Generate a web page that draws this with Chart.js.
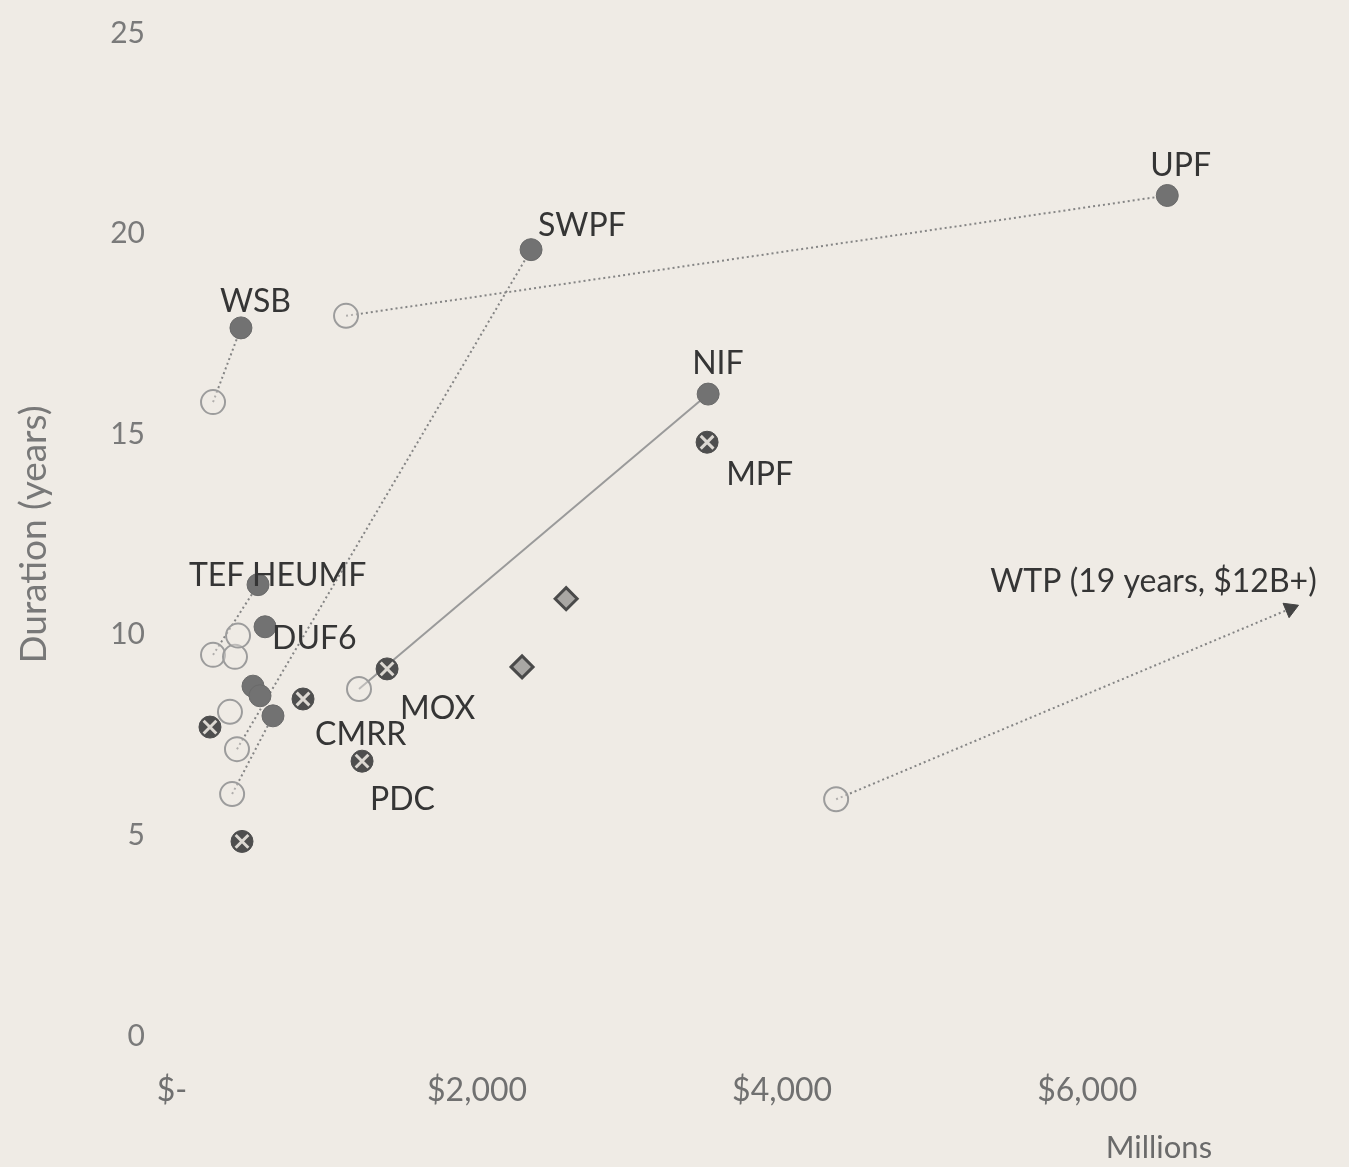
<!DOCTYPE html>
<html>
<head>
<meta charset="utf-8">
<script src="https://cdn.jsdelivr.net/npm/chart.js@4.4.1/dist/chart.umd.min.js"></script>
<style>
  html, body { margin: 0; padding: 0; background: #efebe5; }
  #wrap { width: 1349px; height: 1167px; }
</style>
</head>
<body>
<div id="wrap"><canvas id="chart_area"></canvas></div>
<script>
// tick values
const xTicks = [0, 2000, 4000, 6000];
const yTicks = [0, 5, 10, 15, 20, 25];

// baseline estimates (open circles)
const openCost  = [269, 1141, 426, 269, 413, 433, 380, 394, 1226, 4354];
const openYears = [15.8, 17.95, 7.15, 9.5, 9.45, 9.98, 8.08, 6.03, 8.65, 5.9];

// current estimates (filled circles)
const filledCost  = [452, 6525, 2354, 3515, 564, 610, 531, 577, 662];
const filledYears = [17.65, 20.95, 19.6, 16.0, 11.25, 10.2, 8.72, 8.48, 7.98];

// other projects (X markers)
const crossCost  = [1410, 3508, 859, 249, 1246, 459];
const crossYears = [9.15, 14.8, 8.4, 7.7, 6.85, 4.85];

// diamonds
const diamondCost  = [2584, 2295];
const diamondYears = [10.9, 9.2];

// growth lines, baseline -> current
const lineNames     = ['WSB', 'UPF', 'SWPF', 'TEF', 'CMRR', 'NIF', 'WTP'];
const lineFromCost  = [269, 1141, 426, 269, 394, 1226, 4354];
const lineFromYears = [15.8, 17.95, 7.15, 9.5, 6.03, 8.65, 5.9];
const lineToCost    = [452, 6525, 2354, 564, 662, 3515, 7331];
const lineToYears   = [17.65, 20.95, 19.6, 11.25, 7.98, 16.0, 10.65];

// text labels
const labelTexts = ['UPF', 'SWPF', 'WSB', 'NIF', 'MPF', 'TEF', 'HEUMF', 'DUF6', 'MOX', 'CMRR', 'PDC', 'WTP (19 years, $12B+)'];
const labelCost  = [6413, 2400, 315, 3410, 3633, 111, 525, 656, 1495, 938, 1298, 5364];
const labelYears = [21.7, 20.2, 18.3, 16.75, 13.98, 11.48, 11.48, 9.9, 8.15, 7.5, 5.9, 11.33];

const toPoints = (xs, ys) => xs.map((x, i) => ({ x: x, y: ys[i] }));

const fontFam = 'Lato, "Open Sans", sans-serif';
let datasets = [];

lineNames.forEach(function (name, i) {
  datasets.push({
    label: name + ' line',
    data: [{ x: lineFromCost[i], y: lineFromYears[i] }, { x: lineToCost[i], y: lineToYears[i] }],
    showLine: true,
    borderColor: name == 'NIF' ? '#9a9a9a' : '#858585',
    borderWidth: 2,
    borderDash: name == 'NIF' ? [] : [2, 3],
    pointRadius: 0,
    order: 10
  });
});

// arrow head at the end of WTP
const wtp = lineNames.indexOf('WTP');
datasets.push({
  label: 'WTP arrow',
  data: [{ x: lineToCost[wtp], y: lineToYears[wtp] }],
  pointStyle: 'triangle',
  pointRadius: 9,
  backgroundColor: '#444',
  borderColor: '#444',
  rotation: function (ctx) {
    const c = ctx.chart;
    if (!c.scales.x) return 67;
    const x1 = c.scales.x.getPixelForValue(lineFromCost[wtp]);
    const y1 = c.scales.y.getPixelForValue(lineFromYears[wtp]);
    const x2 = c.scales.x.getPixelForValue(lineToCost[wtp]);
    const y2 = c.scales.y.getPixelForValue(lineToYears[wtp]);
    return Math.atan2(y2 - y1, x2 - x1) * 180 / Math.PI + 90;
  },
  order: 2
});

datasets.push({
  label: 'Baseline',
  data: toPoints(openCost, openYears),
  pointStyle: 'circle',
  pointRadius: 12,
  backgroundColor: 'rgba(239,235,229,0.4)',
  borderColor: '#9c9c9c',
  borderWidth: 2,
  order: 3
});
datasets.push({
  label: 'Current',
  data: toPoints(filledCost, filledYears),
  pointStyle: 'circle',
  pointRadius: 11,
  backgroundColor: '#727272',
  borderColor: '#6a6a6a',
  borderWidth: 1,
  order: 2
});
datasets.push({
  label: 'Other',
  data: toPoints(crossCost, crossYears),
  pointStyle: 'circle',
  pointRadius: 11,
  backgroundColor: '#4e4e4e',
  borderColor: '#4e4e4e',
  borderWidth: 1,
  order: 2
});
datasets.push({
  label: 'Other X',
  data: toPoints(crossCost, crossYears),
  pointStyle: 'crossRot',
  pointRadius: 9,
  borderColor: '#dcd8d2',
  borderWidth: 3,
  order: 1
});
datasets.push({
  label: 'Diamond',
  data: toPoints(diamondCost, diamondYears),
  pointStyle: 'rectRot',
  pointRadius: 11,
  backgroundColor: '#a9a7a4',
  borderColor: '#4a4a4a',
  borderWidth: 3,
  order: 2
});

const textPlugin = {
  id: 'textPlugin',
  afterDatasetsDraw: function (chart) {
    const c = chart.ctx;
    const xs = chart.scales.x, ys = chart.scales.y;
    c.save();
    c.font = '32px ' + fontFam;
    c.fillStyle = '#353535';
    c.textAlign = 'left';
    c.textBaseline = 'middle';
    labelTexts.forEach(function (t, i) {
      c.fillText(t, xs.getPixelForValue(labelCost[i]), ys.getPixelForValue(labelYears[i]));
    });
    c.font = '31px ' + fontFam;
    c.fillStyle = '#6a6a6a';
    c.textAlign = 'center';
    c.fillText('Millions', xs.getPixelForValue(6470), chart.chartArea.bottom + 112);
    c.restore();
  }
};

const ctx = document.getElementById('chart_area').getContext('2d');
const chart = new Chart(ctx, {
  type: 'scatter',
  data: { datasets: datasets },
  plugins: [textPlugin],
  options: {
    responsive: true,
    maintainAspectRatio: false,
    animation: false,
    layout: { padding: { top: 33, right: 33, left: 0, bottom: 0 } },
    plugins: {
      legend: { display: false },
      tooltip: { enabled: false }
    },
    scales: {
      x: {
        type: 'linear',
        min: 0,
        max: 7500,
        grid: { display: false, drawTicks: false },
        border: { display: false },
        afterBuildTicks: function (scale) {
          scale.ticks = xTicks.map(v => ({ value: v }));
        },
        afterFit: function (scale) {
          scale.height = 131;
          scale.paddingLeft = 0;
          scale.paddingRight = 0;
        },
        ticks: {
          padding: 35,
          color: '#707070',
          font: { size: 32, family: fontFam },
          callback: function (v) {
            return v == 0 ? '$-' : '$' + v.toLocaleString('en-US');
          }
        }
      },
      y: {
        min: 0,
        max: 25,
        grid: { display: false, drawTicks: false },
        border: { display: false },
        afterBuildTicks: function (scale) {
          scale.ticks = yTicks.map(v => ({ value: v }));
        },
        afterFit: function (scale) {
          scale.width = 172;
          scale.paddingTop = 0;
          scale.paddingBottom = 0;
        },
        ticks: {
          padding: 27,
          color: '#7a7a7a',
          font: { size: 30, family: fontFam }
        },
        title: {
          display: true,
          text: 'Duration (years)',
          color: '#787878',
          padding: { top: 12, bottom: 0 },
          font: { size: 37, family: fontFam }
        }
      }
    }
  }
});
</script>
</body>
</html>
